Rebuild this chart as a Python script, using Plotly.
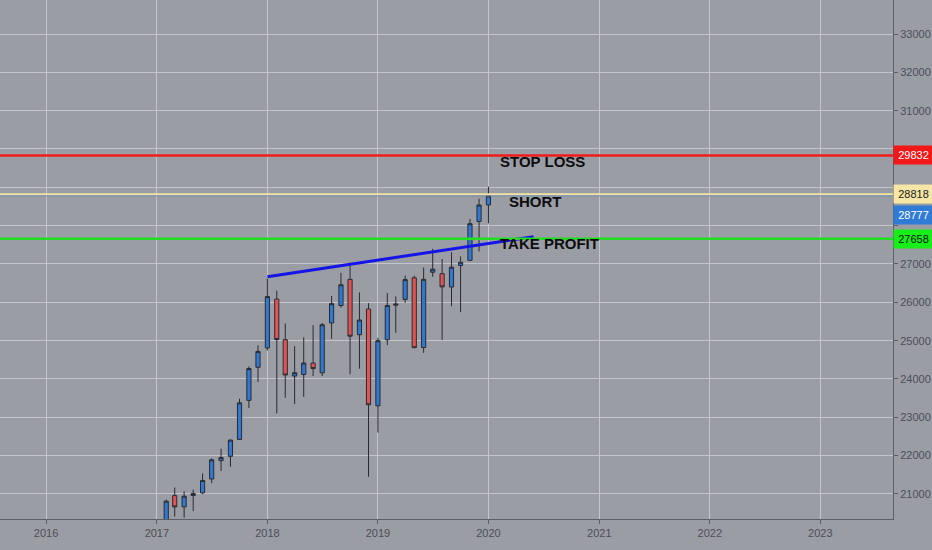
import plotly.graph_objects as go

# monthly candles, Feb 2017 - Jan 2020
months = [
    "2017-02-01", "2017-03-01", "2017-04-01", "2017-05-01", "2017-06-01", "2017-07-01",
    "2017-08-01", "2017-09-01", "2017-10-01", "2017-11-01", "2017-12-01",
    "2018-01-01", "2018-02-01", "2018-03-01", "2018-04-01", "2018-05-01", "2018-06-01",
    "2018-07-01", "2018-08-01", "2018-09-01", "2018-10-01", "2018-11-01", "2018-12-01",
    "2019-01-01", "2019-02-01", "2019-03-01", "2019-04-01", "2019-05-01", "2019-06-01",
    "2019-07-01", "2019-08-01", "2019-09-01", "2019-10-01", "2019-11-01", "2019-12-01",
    "2020-01-01",
]
opens = [19923, 20957, 20665, 20962, 21030, 21392, 21870, 21982, 22423, 23442, 24305,
         24809, 26083, 25025, 24076, 24117, 24416, 24161, 25461, 25916, 26598, 25155, 25826,
         23300, 25025, 25958, 26076, 26639, 24820, 26786, 26746, 26399, 26962, 27094, 28109,
         28540]
highs = [20851, 21169, 21070, 21112, 21535, 21929, 22179, 22419, 23485, 24328, 24876,
         26617, 26306, 25449, 24858, 25086, 25403, 25462, 26168, 26769, 26952, 26260, 25980,
         25075, 26241, 26156, 26696, 26695, 26908, 27398, 27130, 27306, 27197, 28175, 28702,
         29017]
lows = [19831, 20412, 20379, 20553, 20994, 21279, 21600, 21709, 22416, 23242, 23921,
        24741, 23100, 23509, 23344, 23532, 24076, 24077, 25050, 25862, 24123, 24268, 21450,
        22600, 24883, 25208, 25987, 24816, 24680, 26665, 25020, 25900, 25743, 27094, 27325,
        28061]
closes = [20812, 20663, 20941, 21009, 21350, 21891, 21950, 22405, 23377, 24272, 24719,
          26149, 25029, 24103, 24163, 24416, 24271, 25415, 25965, 26458, 25116, 25538, 23327,
          24999, 25916, 25929, 26593, 24815, 26600, 26864, 26403, 26917, 27046, 28051, 28538,
          28777]

# price axis ticks (labels under the price tags are covered in the original)
y_ticks = [21000, 22000, 23000, 24000, 25000, 26000, 27000, 28000, 29000, 30000,
           31000, 32000, 33000]
y_labels = ["21000", "22000", "23000", "24000", "25000", "26000", "27000", "", "", "",
            "31000", "32000", "33000"]

# drawn levels: stop loss, short entry, last price, take profit
level_values = [29832, 28818, 28777, 27658]
level_colors = ["#f01c1c", "#f3e4a4", "#6f8db5", "#22de22"]
level_widths = [2.5, 2, 1, 2.5]
tag_text_colors = ["#ffffff", "#1a1a1a", "#ffffff", "#111111"]
tag_bg_colors = ["#f21818", "#f7e6a6", "#2f7bd6", "#18ee18"]
tag_shifts = [0, 0, -19, 0]

# trend line
trend_x = ["2018-01-01", "2020-05-29"]
trend_y = [26668, 27712]

# text labels
label_text = ["STOP LOSS", "SHORT", "TAKE PROFIT"]
label_x = ["2020-01-31", "2020-03-03", "2020-01-31"]
label_y = [29661, 28643, 27522]

BG = "#9b9da5"
GRID = "#c3c5ca"
AXIS = "#5b5e67"
FONT = "Liberation Sans, Arial, sans-serif"
TICKFONT = dict(family=FONT, size=11, color="#4b4e57")

fig = go.Figure()

fig.add_trace(go.Candlestick(
    x=months, open=opens, high=highs, low=lows, close=closes,
    increasing=dict(fillcolor="#3079d2", line=dict(color="#2a2b30", width=1)),
    decreasing=dict(fillcolor="#e25454", line=dict(color="#2a2b30", width=1)),
    hoverinfo="skip", showlegend=False,
))

fig.add_trace(go.Scatter(
    x=trend_x, y=trend_y, mode="lines",
    line=dict(color="#1414e6", width=3),
    hoverinfo="skip", showlegend=False,
))

for val, col, w in zip(level_values, level_colors, level_widths):
    fig.add_shape(type="line", xref="paper", x0=0, x1=1, yref="y", y0=val, y1=val,
                  line=dict(color=col, width=w), layer="above")

for val, fc, bg, sh in zip(level_values, tag_text_colors, tag_bg_colors, tag_shifts):
    fig.add_annotation(
        xref="paper", x=1, xanchor="left", yref="y", y=val, yshift=sh,
        text=str(val), showarrow=False, bgcolor=bg, width=37, height=16,
        font=dict(family=FONT, size=11, color=fc),
    )

for t, xx, yy in zip(label_text, label_x, label_y):
    fig.add_annotation(
        x=xx, y=yy, xanchor="left", yanchor="middle", text="<b>%s</b>" % t,
        showarrow=False,
        font=dict(family=FONT, size=15, color="#0d0d0d"),
    )

fig.update_layout(
    width=932, height=550,
    margin=dict(l=0, r=39, t=0, b=31),
    paper_bgcolor=BG, plot_bgcolor=BG,
    showlegend=False,
)

fig.update_xaxes(
    type="date", range=["2015-08-02", "2023-08-29"],
    dtick="M12", tick0="2016-01-01", tickformat="%Y",
    showgrid=True, gridcolor=GRID, gridwidth=1,
    showline=True, linecolor=AXIS, linewidth=1,
    ticks="outside", ticklen=4, tickcolor=AXIS,
    tickfont=TICKFONT, rangeslider=dict(visible=False),
    zeroline=False, fixedrange=True,
)

fig.update_yaxes(
    side="right", range=[20347, 33887],
    tickmode="array", tickvals=y_ticks, ticktext=y_labels,
    showgrid=True, gridcolor=GRID, gridwidth=1,
    showline=True, linecolor=AXIS, linewidth=1,
    ticks="outside", ticklen=4, tickcolor=AXIS,
    tickfont=TICKFONT, zeroline=False, fixedrange=True,
)

fig.write_html("out.html", config={"displayModeBar": False},
               post_script="document.body.style.margin='0';document.body.style.overflow='hidden';")
